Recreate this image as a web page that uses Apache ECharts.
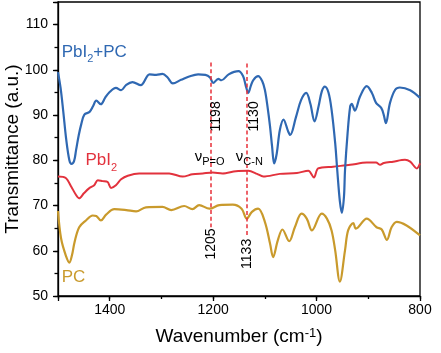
<!DOCTYPE html>
<html><head><meta charset="utf-8">
<script src="https://cdn.jsdelivr.net/npm/echarts@6/dist/echarts.min.js"></script>
<style>html,body{margin:0;padding:0;background:#fff}#c{width:441px;height:353px}</style>
</head><body><div id="c"></div>
<script>
// ---- data (wavenumber cm-1, transmittance a.u.) ----
const pbi2pc = [[1500,99.5],[1495,96],[1490,91],[1484,84.5],[1478,80],[1474,79.2],[1469,79.8],[1465,82.3],[1460,85.5],[1455,88],[1449,90.1],[1439,90.7],[1432,92],[1426,93.2],[1417,92.4],[1409,93.8],[1401,95.0],[1388,96.0],[1378,95.5],[1368,96.7],[1356,97.3],[1340,96.6],[1323,99.0],[1310,98.9],[1298,99.1],[1288,98.3],[1278,97.0],[1262,97.8],[1245,98.6],[1229,99.0],[1215,98.9],[1206,98.3],[1200,97.1],[1190,98.0],[1184,97.7],[1170,99.0],[1151,99.7],[1142,98.6],[1137,96.5],[1132,94.9],[1127,96.5],[1122,97.8],[1113,98.6],[1105,97.5],[1100,95.6],[1095,92],[1090,87.5],[1086,83],[1082,79.3],[1077,81.5],[1071,86.7],[1064,89.0],[1055,86.4],[1051,85.6],[1040,89.5],[1030,93.3],[1020,94.9],[1012,92.5],[1004,88.6],[996,92],[990,95.2],[984,96.3],[977,95],[971,91.2],[964,83.8],[960,77.8],[955,71],[951,68.4],[947,72],[945,77.8],[940,86],[935,91.9],[932,92.5],[926,91.0],[916,94.1],[903,96.4],[893,94.9],[885,92.7],[875,91.6],[870,90],[866,88.2],[858,92.7],[848,95.6],[839,96.1],[819,95.5],[800,93.8]];
const pbi2 = [[1500,76.4],[1485,76.1],[1474,74.1],[1466,72.5],[1459,71.6],[1450,72.7],[1440,73.8],[1430,74.5],[1423,75.6],[1414,75.4],[1404,75.2],[1397.5,73.9],[1388,74.5],[1378,75.8],[1365,76.6],[1343,77.1],[1310,77.1],[1285,77.1],[1259,76.4],[1240,76.9],[1220,77.1],[1201,77.3],[1182,77.1],[1156,77.6],[1132,77.7],[1115,77.0],[1103,76.4],[1071,77.0],[1038,77.2],[1016,77.7],[1005,76.2],[997,78.2],[968,78.6],[935,79.0],[903,79.5],[885,79.5],[877,79.0],[870,79.4],[852,79.7],[829,80.1],[819,79.7],[806,78.2],[800,79.3]];
const pc = [[1500,68.8],[1494,62.7],[1485,59.0],[1478,57.4],[1473,59],[1468,61.9],[1459,65.2],[1446,66.7],[1433,67.8],[1426,67.7],[1417,66.7],[1407,68.0],[1391,69.2],[1368,69.0],[1349,68.7],[1330,69.6],[1298,69.7],[1281,69.0],[1256,69.9],[1240,69.2],[1227,70.1],[1207,69.3],[1188,70.1],[1162,70.2],[1145,69.3],[1135,67.1],[1125,68.6],[1113,69.3],[1100,66.4],[1090,61.6],[1084,58.6],[1075,62.3],[1066,64.7],[1053,62.1],[1042,65.2],[1029,68.2],[1019,67.1],[1009,64.5],[990,68.2],[980,67.1],[971,64.5],[964,60.1],[955,53.2],[945,60.1],[939,64.5],[929,66.1],[924,64.9],[903,67.1],[884,65.2],[874,64.7],[864,62.4],[855,65.2],[845,66.4],[826,65.6],[800,63.4]];
const xTickLabels = [1400, 1200, 1000, 800];
const yTickLabels = [50, 60, 70, 80, 90, 100, 110];
const peakWaves = [1204, 1135];
const peakTexts = ['1198', '1130', '1205', '1133'];

// ---- style / layout ----
const FONT = "'Liberation Sans', Arial, sans-serif";
const colors = ['#2f68b2', '#e2323d', '#c99a2c'];
const red = '#e8303a';

const chart = echarts.init(document.getElementById('c'), null, {renderer: 'canvas'});

function richFor(color) {
  return {
    n: {fontSize: 17, lineHeight: 20, verticalAlign: 'top', fontFamily: FONT, color: color, textBorderWidth: 0},
    s: {fontSize: 11, lineHeight: 12, verticalAlign: 'top', padding: [10, 0, 0, 0], fontFamily: FONT, color: color, textBorderWidth: 0}
  };
}
const nuRich = {
  n: {fontSize: 15, lineHeight: 17, verticalAlign: 'top', fontFamily: FONT, color: '#000', textBorderWidth: 0},
  s: {fontSize: 11, lineHeight: 12, verticalAlign: 'top', padding: [7, 0, 0, 0], fontFamily: FONT, color: '#000', textBorderWidth: 0}
};
const hidden = {color: 'rgba(0,0,0,0)', borderWidth: 0, opacity: 1};

const option = {
  animation: false,
  backgroundColor: '#fff',
  grid: {left: 58, right: 21, top: 2, bottom: 57, show: true, borderColor: '#000', borderWidth: 1.3, outerBoundsMode: 'none'},
  xAxis: [{
    type: 'value', inverse: true, min: 800, max: 1500, interval: 200,
    name: '{n|Wavenumber (cm}{p|-1}{n|)}', nameLocation: 'middle', nameGap: 31, nameMoveOverlap: false,
    nameTextStyle: {rich: {
      n: {fontSize: 19, lineHeight: 22, verticalAlign: 'top', fontFamily: FONT, color: '#000'},
      p: {fontSize: 13, lineHeight: 14, verticalAlign: 'top', padding: [0, 0, 0, 0], fontFamily: FONT, color: '#000'}
    }},
    axisLine: {show: true, lineStyle: {color: '#000', width: 1.3}},
    axisTick: {show: true, length: 5, lineStyle: {color: '#000', width: 1.3}},
    axisLabel: {show: true, margin: 7, fontSize: 14, fontFamily: FONT, color: '#000',
      formatter: v => xTickLabels.indexOf(v) >= 0 ? String(v) : ''},
    splitLine: {show: false}
  }, {
    type: 'value', inverse: true, min: 800, max: 1500, interval: 100, position: 'bottom',
    axisLine: {show: false}, axisLabel: {show: false}, splitLine: {show: false},
    axisTick: {show: true, length: 3, lineStyle: {color: '#000', width: 1.3}}
  }],
  yAxis: [{
    type: 'value', min: 50, max: 115, interval: 10,
    name: 'Transmittance (a.u.)', nameLocation: 'middle', nameGap: 36, nameMoveOverlap: false,
    nameTextStyle: {fontSize: 19, fontFamily: FONT, color: '#000'},
    axisLine: {show: true, lineStyle: {color: '#000', width: 1.3}},
    axisTick: {show: true, length: 5, lineStyle: {color: '#000', width: 1.3}},
    axisLabel: {show: true, margin: 10, fontSize: 14, fontFamily: FONT, color: '#000',
      formatter: v => yTickLabels.indexOf(v) >= 0 ? String(v) : ''},
    splitLine: {show: false}
  }, {
    type: 'value', min: 50, max: 115, interval: 5, position: 'left',
    axisLine: {show: false}, axisLabel: {show: false}, splitLine: {show: false},
    axisTick: {show: true, length: 3.5, lineStyle: {color: '#000', width: 1.3}}
  }],
  series: [
    {type: 'line', name: 'PbI2+PC', data: pbi2pc, smooth: 0.35, showSymbol: false, symbol: 'none',
      lineStyle: {color: colors[0], width: 2.2}, z: 3},
    {type: 'line', name: 'PbI2', data: pbi2, smooth: 0.3, showSymbol: false, symbol: 'none',
      lineStyle: {color: colors[1], width: 2}, z: 2},
    {type: 'line', name: 'PC', data: pc, smooth: 0.35, showSymbol: false, symbol: 'none',
      lineStyle: {color: colors[2], width: 2.2}, z: 2},
    {type: 'line', data: [], symbol: 'none', z: 1,
      markLine: {silent: true, symbol: 'none', animation: false,
        lineStyle: {type: [4, 2.7], color: red, width: 1.5, opacity: 1},
        label: {show: false},
        data: [
          [{coord: [peakWaves[0], 101.6]}, {coord: [peakWaves[0], 65.2]}],
          [{coord: [peakWaves[1], 101.4]}, {coord: [peakWaves[1], 63.4]}]
        ]}},
    {type: 'scatter', symbolSize: 1, itemStyle: hidden, silent: true, z: 5,
      label: {show: true, position: [0, 0], align: 'left', verticalAlign: 'middle', textBorderWidth: 0},
      data: [
        {value: [1492, 103.4], label: {formatter: '{n|PbI}{s|2}{n|+PC}', rich: richFor(colors[0])}},
        {value: [1446, 79.5], label: {formatter: '{n|PbI}{s|2}', rich: richFor(colors[1])}},
        {value: [1492, 53.7], label: {formatter: '{n|PC}', rich: richFor(colors[2])}}
      ]},
    {type: 'scatter', symbolSize: 1, itemStyle: hidden, silent: true, z: 5,
      label: {show: true, position: [0, 0], align: 'center', verticalAlign: 'middle', rotate: 90,
        fontSize: 14, fontFamily: FONT, color: '#000', textBorderWidth: 0, formatter: p => p.name},
      data: [
        {name: peakTexts[0], value: [1192.5, 89.6]},
        {name: peakTexts[1], value: [1119, 89.6]},
        {name: peakTexts[2], value: [1203, 61.4]},
        {name: peakTexts[3], value: [1132.5, 59.2]}
      ]},
    {type: 'scatter', symbolSize: 1, itemStyle: hidden, silent: true, z: 5,
      label: {show: true, position: [0, 0], align: 'center', verticalAlign: 'middle', textBorderWidth: 0, rich: nuRich},
      data: [
        {value: [1206, 80.5], label: {formatter: '{n|ν}{s|P=O}'}},
        {value: [1129, 80.5], label: {formatter: '{n|ν}{s|C-N}'}}
      ]}
  ]
};
chart.setOption(option);
</script></body></html>
